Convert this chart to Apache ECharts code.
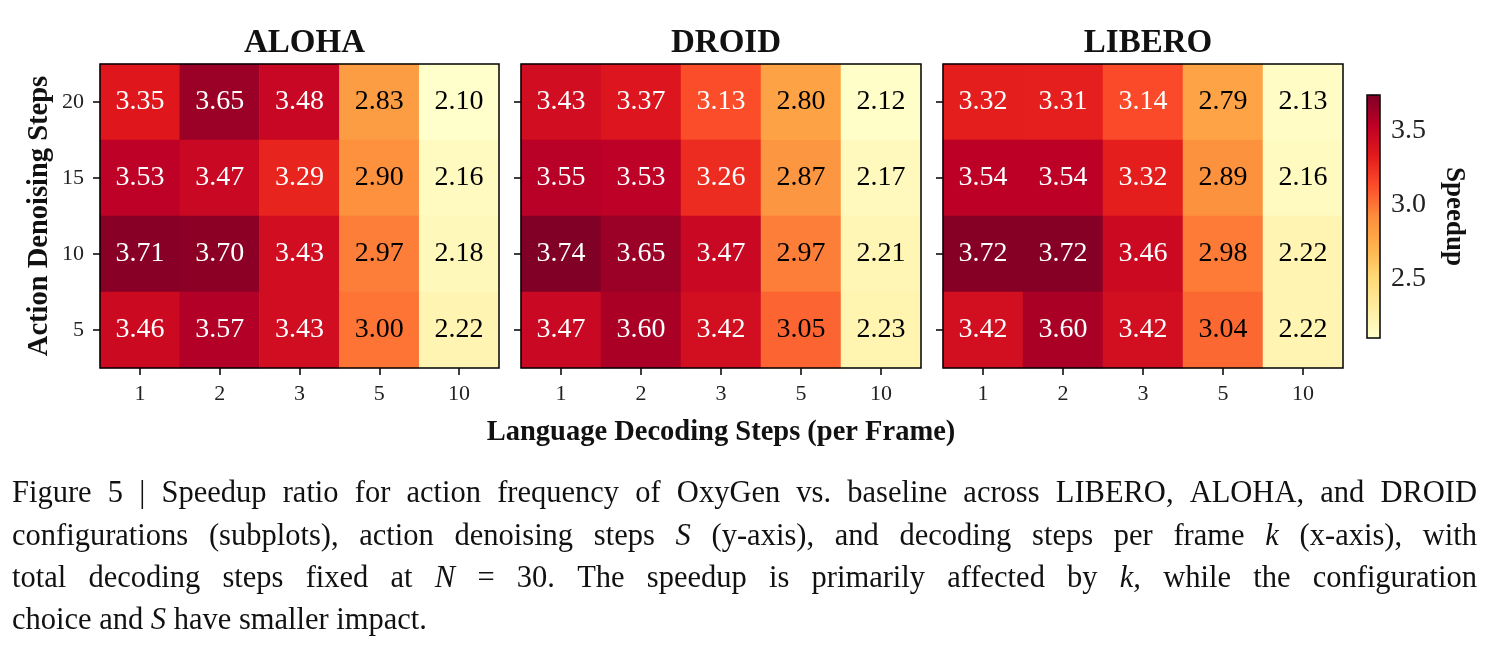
<!DOCTYPE html>
<html>
<head>
<meta charset="utf-8">
<script src="https://cdn.jsdelivr.net/npm/echarts@6/dist/echarts.min.js"></script>
<style>
  html, body { margin: 0; padding: 0; background: #fff; }
  #main { width: 1494px; height: 647px; }
</style>
</head>
<body>
<div id="main"></div>
<script>
// x: language decoding steps per frame, y: action denoising steps
const xLabels = ['1', '2', '3', '5', '10']
const yLabels = ['5', '10', '15', '20']
const panelNames = ['ALOHA', 'DROID', 'LIBERO']

// rows as they appear top -> bottom (S = 20, 15, 10, 5)
const alohaRows = [
  [3.35, 3.65, 3.48, 2.83, 2.10],
  [3.53, 3.47, 3.29, 2.90, 2.16],
  [3.71, 3.70, 3.43, 2.97, 2.18],
  [3.46, 3.57, 3.43, 3.00, 2.22]
]
const droidRows = [
  [3.43, 3.37, 3.13, 2.80, 2.12],
  [3.55, 3.53, 3.26, 2.87, 2.17],
  [3.74, 3.65, 3.47, 2.97, 2.21],
  [3.47, 3.60, 3.42, 3.05, 2.23]
]
const liberoRows = [
  [3.32, 3.31, 3.14, 2.79, 2.13],
  [3.54, 3.54, 3.32, 2.89, 2.16],
  [3.72, 3.72, 3.46, 2.98, 2.22],
  [3.42, 3.60, 3.42, 3.04, 2.22]
]
const colorbarTicks = [2.5, 3.0, 3.5]
const speedMin = 2.10
const speedMax = 3.74

const captionLines = [
  'Figure 5 | Speedup ratio for action frequency of OxyGen vs. baseline across LIBERO, ALOHA, and DROID',
  'configurations (subplots), action denoising steps S (y-axis), and decoding steps per frame k (x-axis), with',
  'total decoding steps fixed at N = 30. The speedup is primarily affected by k, while the configuration',
  'choice and S have smaller impact.'
]
const italicWords = ['S', 'k', 'k,', 'N']

// YlOrRd
const ylOrRd = ['#ffffcc', '#ffeda0', '#fed976', '#feb24c', '#fd8d3c', '#fc4e2a', '#e31a1c', '#bd0026', '#800026']

const SERIF = '"Liberation Serif", "Times New Roman", serif'
const panelLeft = [100, 521, 943]
const panelWidth = [399, 400, 400]
const panelTop = 64
const panelHeight = 304

function toCells(rows) {
  const out = []
  rows.forEach((row, r) => {
    const yi = yLabels.length - 1 - r
    row.forEach((v, xi) => {
      out.push({
        value: [xi, yi, v],
        label: { color: v > 3.1 ? '#fff' : '#000' }
      })
    })
  })
  return out
}

const allRows = [alohaRows, droidRows, liberoRows]
const tickStyle = { color: '#000', width: 1.5 }

const grids = [], xAxes = [], yAxes = [], series = [], titles = []
allRows.forEach((rows, i) => {
  grids.push({
    left: panelLeft[i], top: panelTop, width: panelWidth[i], height: panelHeight,
    show: true, z: 10, borderColor: '#000', borderWidth: 1.5, backgroundColor: 'transparent'
  })
  xAxes.push({
    type: 'category', gridIndex: i, data: xLabels,
    axisLine: { show: false },
    axisTick: { show: true, alignWithLabel: true, length: 7, lineStyle: tickStyle },
    axisLabel: { color: '#222', fontFamily: SERIF, fontSize: 22, margin: 15 },
    splitLine: { show: false },
    name: i === 1 ? 'Language Decoding Steps (per Frame)' : '',
    nameLocation: 'middle', nameGap: 50,
    nameTextStyle: { fontFamily: SERIF, fontWeight: 'bold', fontSize: 28.5, color: '#111' }
  })
  yAxes.push({
    type: 'category', gridIndex: i, data: yLabels,
    axisLine: { show: false },
    axisTick: { show: true, alignWithLabel: true, length: 7, lineStyle: tickStyle },
    axisLabel: { show: i === 0, color: '#222', fontFamily: SERIF, fontSize: 22, margin: 16 },
    splitLine: { show: false },
    name: i === 0 ? 'Action Denoising Steps' : '',
    nameLocation: 'middle', nameGap: 46, nameRotate: 90,
    nameTextStyle: { fontFamily: SERIF, fontWeight: 'bold', fontSize: 28.5, color: '#111' }
  })
  series.push({
    type: 'heatmap', xAxisIndex: i, yAxisIndex: i,
    data: toCells(rows),
    label: {
      show: true, fontFamily: SERIF, fontSize: 28,
      formatter: p => p.value[2].toFixed(2)
    },
    itemStyle: { borderWidth: 0 },
    emphasis: { disabled: true }
  })
  titles.push({
    text: panelNames[i],
    left: panelLeft[i] + panelWidth[i] / 2, top: 22, textAlign: 'center',
    textStyle: { fontFamily: SERIF, fontWeight: 'bold', fontSize: 33, color: '#111' }
  })
})

// colorbar frame + axis
grids.push({
  left: 1367, top: 95, width: 13, height: 243,
  show: true, z: 10, borderColor: '#000', borderWidth: 1.5, backgroundColor: 'transparent'
})
xAxes.push({ type: 'value', gridIndex: 3, show: false, min: 0, max: 1 })
yAxes.push({
  type: 'value', gridIndex: 3, position: 'right', min: speedMin, max: speedMax,
  axisLine: { show: false },
  splitLine: { show: false },
  axisTick: { show: true, length: 7, customValues: colorbarTicks, lineStyle: tickStyle },
  axisLabel: {
    color: '#222', fontFamily: SERIF, fontSize: 28, margin: 11,
    customValues: colorbarTicks, formatter: v => v.toFixed(1)
  },
  name: 'Speedup', nameLocation: 'middle', nameGap: 60, nameRotate: -90,
  nameTextStyle: { fontFamily: SERIF, fontWeight: 'bold', fontSize: 27, color: '#111' }
})

// caption, justified word by word
const measureCtx = document.createElement('canvas').getContext('2d')
const capSize = 30.5
const capLeft = 12, capRight = 1477
const capY = [497, 540, 582, 624]
const captionGraphics = []
captionLines.forEach((line, li) => {
  const words = line.split(' ')
  const widths = words.map(w => {
    const it = italicWords.includes(w)
    measureCtx.font = (it ? 'italic ' : '') + capSize + 'px ' + SERIF
    return measureCtx.measureText(w).width
  })
  const total = widths.reduce((a, b) => a + b, 0)
  measureCtx.font = capSize + 'px ' + SERIF
  const normalGap = measureCtx.measureText(' ').width
  const justify = li < captionLines.length - 1
  const gap = justify ? (capRight - capLeft - total) / (words.length - 1) : normalGap
  let x = capLeft
  words.forEach((w, wi) => {
    captionGraphics.push({
      type: 'text', left: x, top: capY[li] - capSize * 0.6,
      style: {
        text: w, fill: '#111', font: (italicWords.includes(w) ? 'italic ' : '') + capSize + 'px ' + SERIF
      }
    })
    x += widths[wi] + gap
  })
})

const chart = echarts.init(document.getElementById('main'))
chart.setOption({
  animation: false,
  backgroundColor: '#fff',
  title: titles,
  grid: grids,
  xAxis: xAxes,
  yAxis: yAxes,
  visualMap: {
    type: 'continuous', seriesIndex: [0, 1, 2],
    min: speedMin, max: speedMax, calculable: false, realtime: false,
    orient: 'vertical', left: 1367, top: 95, itemWidth: 13, itemHeight: 243,
    padding: 0, text: null, showLabel: false,
    inRange: { color: ylOrRd }
  },
  series: series,
  graphic: captionGraphics
})
</script>
</body>
</html>
